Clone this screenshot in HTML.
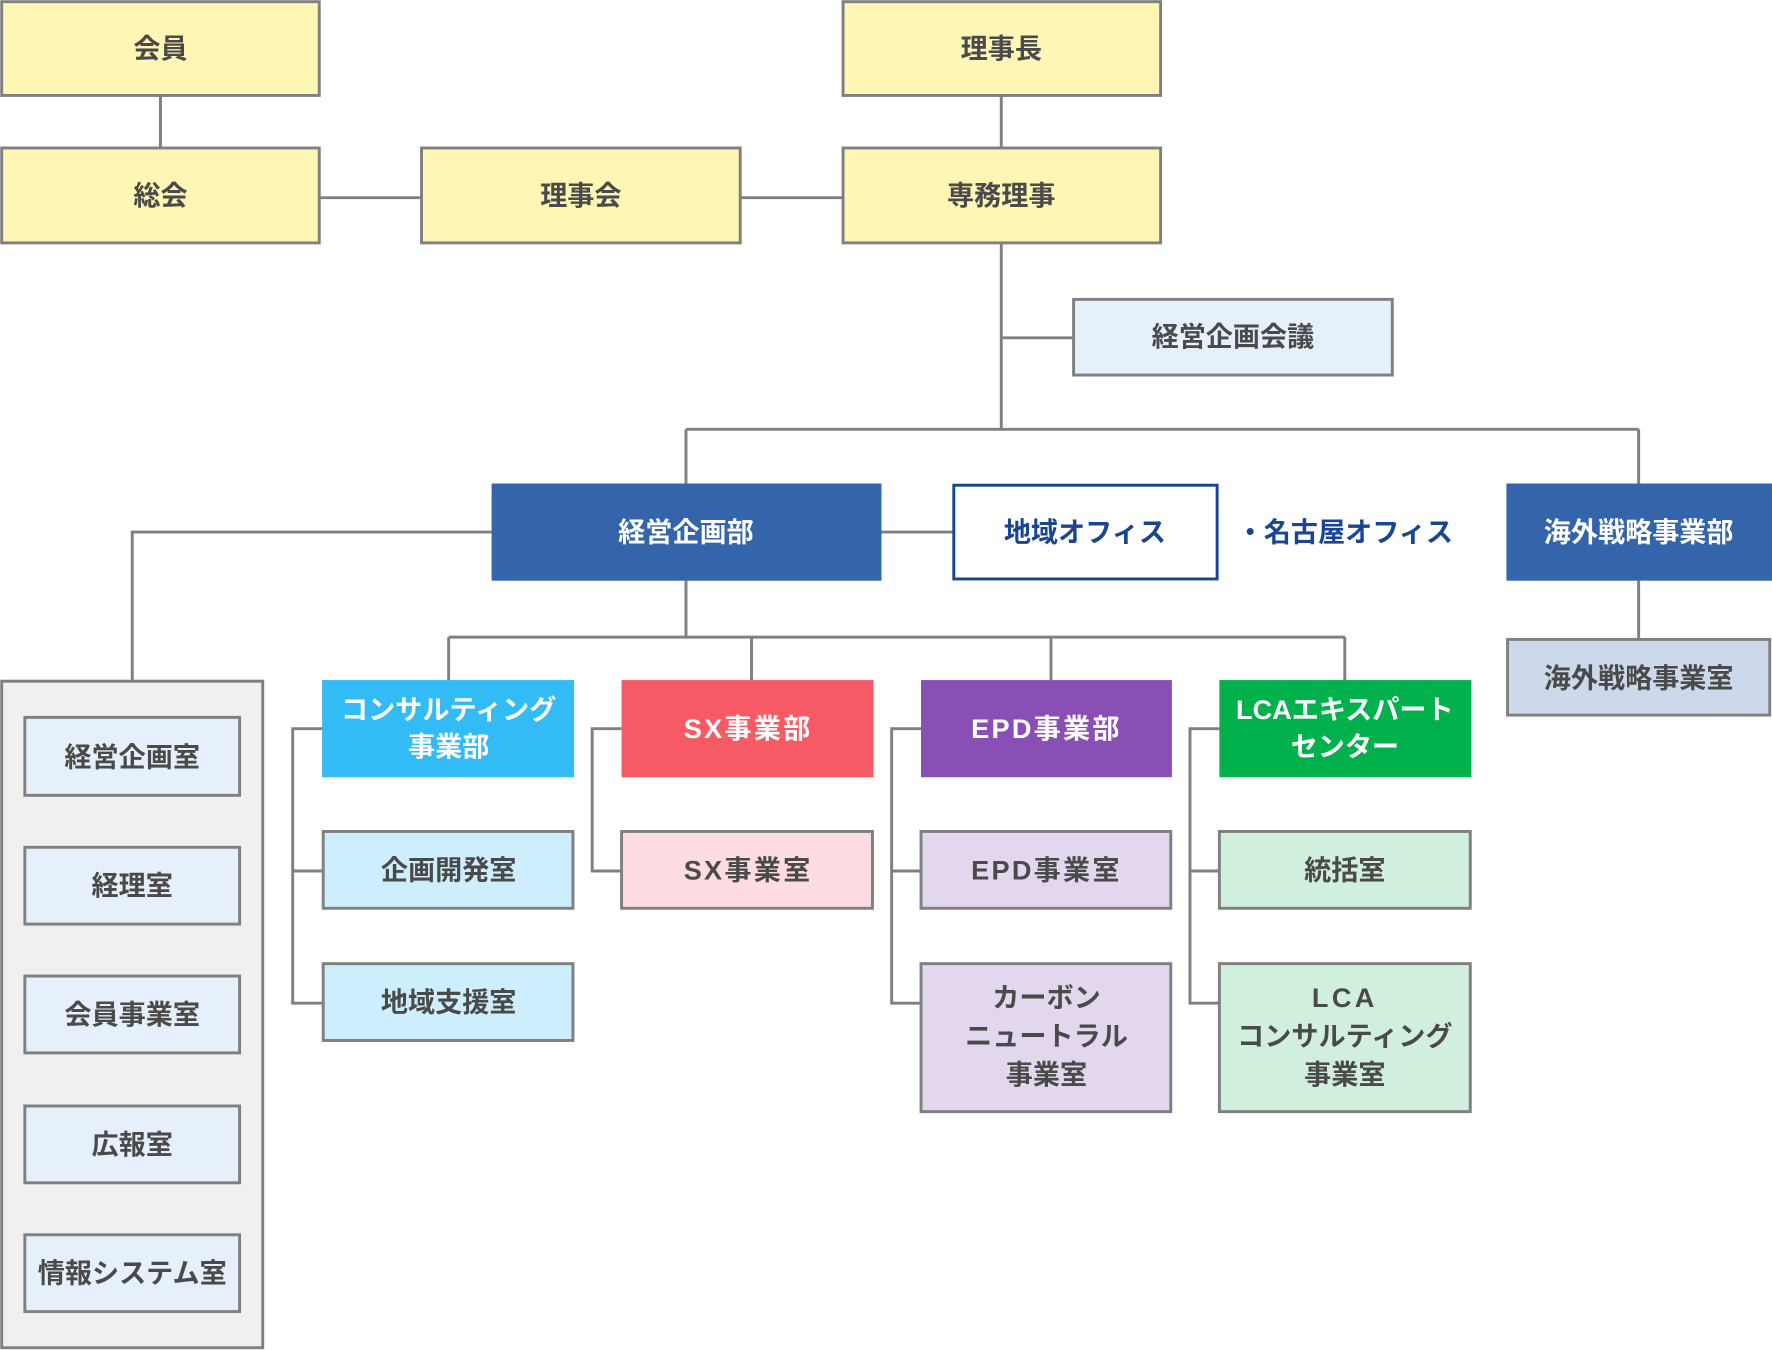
<!DOCTYPE html>
<html><head><meta charset="utf-8"><style>
html,body{margin:0;padding:0;background:#fff;}
svg{display:block}
text{font-family:"Liberation Sans","Noto Sans CJK JP",sans-serif;font-weight:bold;font-size:24px;text-anchor:middle;dominant-baseline:central;fill:#4a4a4a}
.w{fill:#fff}
.l{stroke:#808080;stroke-width:2.6;fill:none}
.b{stroke:#808080;stroke-width:2.6}
</style></head><body>
<svg width="1772" height="1350" viewBox="0 0 1568 1195" preserveAspectRatio="none">
<!-- connectors -->
<path class="l" d="M142 85V131M886 85V131M283 175H373M655 175H746M886 215V380M886 299H950M607 380H1450M607 380V428M1450 380V428M780 471H844M435 471H117V603M1450 514V566M607 514V564M397 564H1190M397 564V602M665 564V602M930 564V602M1190 564V602"/>
<path class="l" d="M286 645H259V888H286M259 771H286M550 645H524V771H550M815 645H789V888H815M789 771H815M1079 645H1053V888H1079M1053 771H1079"/>
<!-- top yellow -->
<g fill="#fef6b4" class="b">
<rect x="1.5" y="1.5" width="281" height="83"/>
<rect x="746" y="1.5" width="281" height="83"/>
<rect x="1.5" y="131" width="281" height="84"/>
<rect x="373" y="131" width="282" height="84"/>
<rect x="746" y="131" width="281" height="84"/>
</g>
<text x="142" y="43">会員</text>
<text x="886" y="43">理事長</text>
<text x="142" y="173">総会</text>
<text x="514" y="173">理事会</text>
<text x="886" y="173">専務理事</text>
<rect x="950" y="265" width="282" height="67" fill="#e6f0fa" class="b"/>
<text x="1091" y="298">経営企画会議</text>
<!-- level 2 -->
<rect x="435" y="428" width="345" height="86" fill="#3465aa"/>
<text class="w" x="607" y="471">経営企画部</text>
<rect x="844" y="429.5" width="233" height="83" fill="#fff" stroke="#1a4593" stroke-width="2.6"/>
<text x="960" y="471" style="fill:#1a4593">地域オフィス</text>
<text x="1190" y="471" style="fill:#1a4593">・名古屋オフィス</text>
<rect x="1333" y="428" width="235" height="86" fill="#3465aa"/>
<text class="w" x="1450" y="471">海外戦略事業部</text>
<rect x="1334" y="566" width="232" height="67" fill="#cdd9ea" class="b"/>
<text x="1450" y="600">海外戦略事業室</text>
<!-- left panel -->
<rect x="1.5" y="603" width="231" height="590" fill="#f0f0f0" class="b"/>
<g fill="#e6f0fa" class="b">
<rect x="22" y="635" width="190" height="69"/>
<rect x="22" y="750" width="190" height="68"/>
<rect x="22" y="864" width="190" height="68"/>
<rect x="22" y="979" width="190" height="68"/>
<rect x="22" y="1093" width="190" height="68"/>
</g>
<text x="117" y="670">経営企画室</text>
<text x="117" y="784">経理室</text>
<text x="117" y="898">会員事業室</text>
<text x="117" y="1013">広報室</text>
<text x="117" y="1127">情報システム室</text>
<!-- departments -->
<rect x="285" y="602" width="223" height="86" fill="#33bbf5"/>
<text class="w" x="397" y="628">コンサルティング</text>
<text class="w" x="397" y="661">事業部</text>
<rect x="550" y="602" width="223" height="86" fill="#f55a65"/>
<text class="w" x="662" y="645" letter-spacing="2">SX事業部</text>
<rect x="815" y="602" width="222" height="86" fill="#8a4fb4"/>
<text class="w" x="926" y="645" letter-spacing="2">EPD事業部</text>
<rect x="1079" y="602" width="223" height="86" fill="#00b14c"/>
<text class="w" x="1190" y="628">LCAエキスパート</text>
<text class="w" x="1190" y="661">センター</text>
<!-- sub -->
<g class="b">
<rect x="286" y="736" width="221" height="68" fill="#cdeefc"/>
<rect x="286" y="853" width="221" height="68" fill="#cdeefc"/>
<rect x="550" y="736" width="222" height="68" fill="#fddde1"/>
<rect x="815" y="736" width="221" height="68" fill="#e3d7ee"/>
<rect x="815" y="853" width="221" height="131" fill="#e3d7ee"/>
<rect x="1079" y="736" width="222" height="68" fill="#d0efdd"/>
<rect x="1079" y="853" width="222" height="131" fill="#d0efdd"/>
</g>
<text x="397" y="770">企画開発室</text>
<text x="397" y="887">地域支援室</text>
<text x="662" y="770" letter-spacing="2">SX事業室</text>
<text x="926" y="770" letter-spacing="2">EPD事業室</text>
<text x="926" y="883">カーボン</text>
<text x="926" y="917">ニュートラル</text>
<text x="926" y="951">事業室</text>
<text x="1190" y="770">統括室</text>
<text x="1190" y="883" letter-spacing="3">LCA</text>
<text x="1190" y="917">コンサルティング</text>
<text x="1190" y="951">事業室</text>
</svg>
</body></html>
